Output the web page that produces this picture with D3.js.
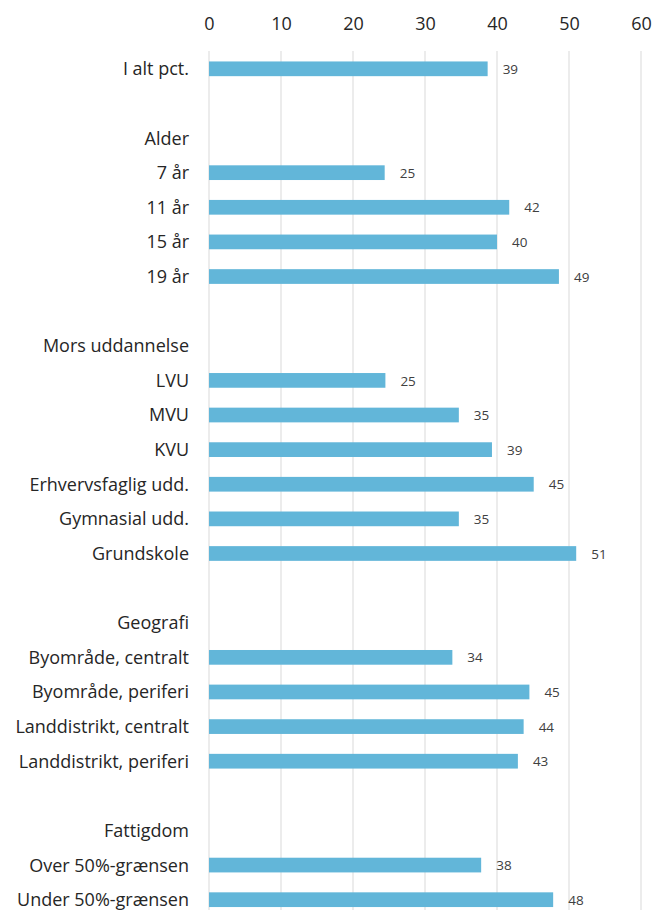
<!DOCTYPE html>
<html><head><meta charset="utf-8">
<script src="https://cdn.jsdelivr.net/npm/d3@7"></script>
<style>body{margin:0;background:#fff}svg{display:block}</style>
</head><body>
<script>
const categories = ["I alt pct.","","Alder","7 år","11 år","15 år","19 år","","Mors uddannelse","LVU","MVU","KVU","Erhvervsfaglig udd.","Gymnasial udd.","Grundskole","","Geografi","Byområde, centralt","Byområde, periferi","Landdistrikt, centralt","Landdistrikt, periferi","","Fattigdom","Over 50%-grænsen","Under 50%-grænsen"];
const values = [38.7,null,null,24.4,41.7,40.0,48.6,null,null,24.5,34.7,39.3,45.1,34.7,51.0,null,null,33.8,44.5,43.7,42.9,null,null,37.8,47.8];
const valueLabels = ["39","","","25","42","40","49","","","25","35","39","45","35","51","","","34","45","44","43","","","38","48"];
const ticks = [0,10,20,30,40,50,60];

const W=654,H=910;
const m={top:51.5,left:209,right:13,bottom:-7};
const svg=d3.select("body").append("svg").attr("width",W).attr("height",H);
const font="'Open Sans', sans-serif";
const x=d3.scaleLinear().domain([0,60]).range([m.left,W-m.right]);
const keys=categories.map((c,i)=>i);
const y=d3.scaleBand().domain(keys).range([m.top,H-m.bottom]).paddingInner(0.575).paddingOuter(0.2875);

// gridlines
svg.append("g").selectAll("line").data(ticks).join("line")
  .attr("x1",d=>x(d)).attr("x2",d=>x(d)).attr("y1",51).attr("y2",H)
  .attr("stroke","#d9d9d9").attr("stroke-width",1);

// top axis labels
const ax=svg.append("g").attr("transform",`translate(0,${51-21})`)
  .call(d3.axisTop(x).tickValues(ticks).tickSize(0).tickPadding(0));
ax.select(".domain").remove();
ax.selectAll("text").attr("font-family",font).attr("font-size",18).attr("fill","#262626").attr("dy","0");

// bars
const data=keys.filter(i=>values[i]!=null);
svg.append("g").selectAll("rect").data(data).join("rect")
  .attr("x",x(0)).attr("y",i=>y(i)).attr("width",i=>x(values[i])-x(0)).attr("height",y.bandwidth())
  .attr("fill","#62b6d9");

// value labels
svg.append("g").selectAll("text").data(data).join("text")
  .attr("x",i=>x(values[i])+15).attr("y",i=>y(i)+y.bandwidth()/2).attr("dy","0.38em")
  .attr("font-family",font).attr("font-size",13.5).attr("fill","#404040")
  .text(i=>valueLabels[i]);

// category labels
svg.append("g").selectAll("text").data(keys.filter(i=>categories[i]!=="")).join("text")
  .attr("x",m.left-20).attr("y",i=>y(i)+y.bandwidth()/2).attr("dy","0.36em")
  .attr("text-anchor","end").attr("font-family",font).attr("font-size",18).attr("fill","#262626")
  .text(i=>categories[i]);
</script>
</body></html>
